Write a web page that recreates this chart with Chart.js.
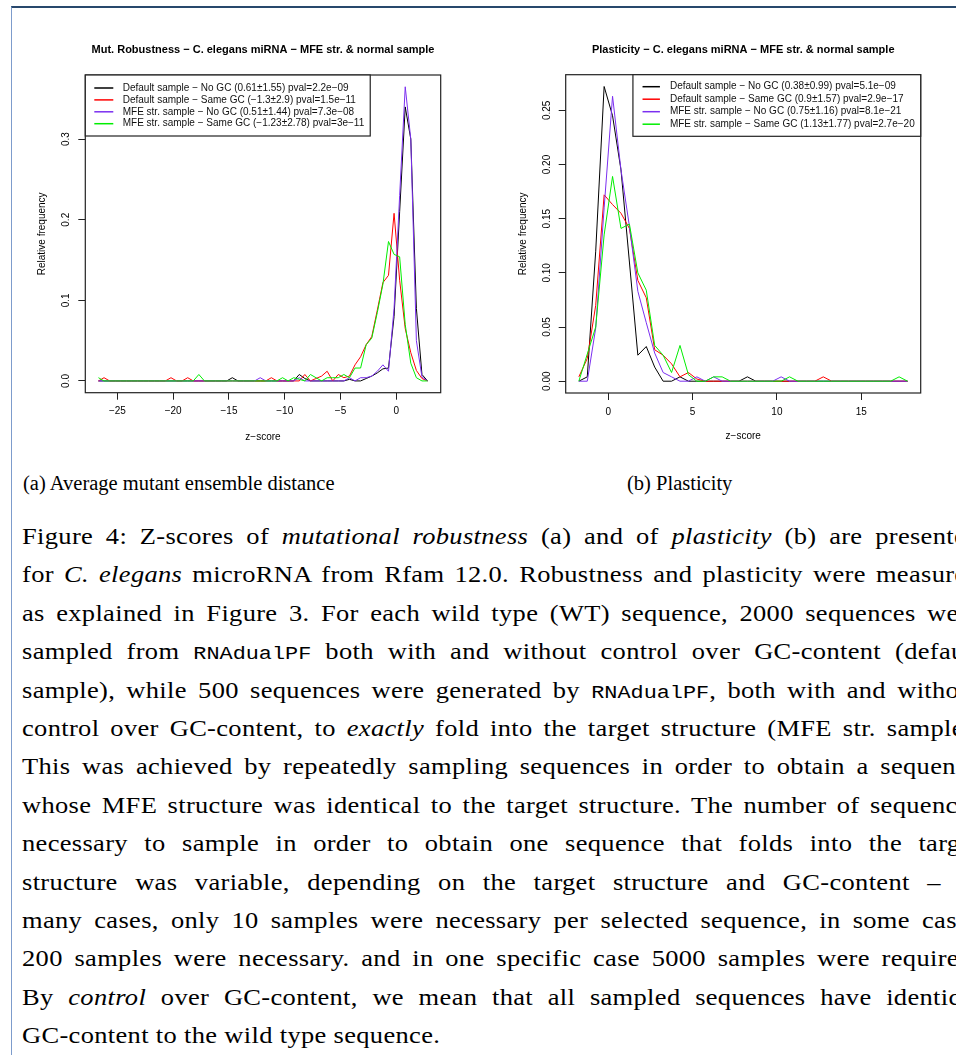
<!DOCTYPE html>
<html>
<head>
<meta charset="utf-8">
<title>Figure 4 - z-scores</title>
<script src="https://cdn.jsdelivr.net/npm/chart.js@4.4.1/dist/chart.umd.min.js"></script>
<style>
    html, body { margin: 0; padding: 0; width: 956px; height: 1055px; overflow: hidden; background: #fff; }
    #frame { position: absolute; left: 11px; top: 6px; width: 980px; height: 1080px;
             border-top: 2px solid #28486c; border-left: 1px solid #7d9ccc; }
    #chartA { position: absolute; left: 0; top: 0; }
    #chartB { position: absolute; left: 478px; top: 0; }
    .sub { position: absolute; top: 468px; font-family: 'Liberation Serif', serif; font-size: 20.5px;
           line-height: 30px; white-space: nowrap; }
    #caption { position: absolute; left: 22px; top: 518px; font-family: 'Liberation Serif', serif;
               font-size: 23px; letter-spacing: 0.3px; color: #000;
               transform: scaleX(1.15); transform-origin: 0 0; }
    #caption .ln { height: 38.4px; line-height: 38.4px; white-space: nowrap; }
    #caption code { font-family: 'Liberation Mono', monospace; font-size: 19px; letter-spacing: 0; }
</style>
</head>
<body>
<div id="frame"></div>
<canvas id="chartA" width="478" height="460"></canvas>
<canvas id="chartB" width="478" height="460"></canvas>

<div class="sub" style="left:23px">(a) Average mutant ensemble distance</div>
<div class="sub" style="left:627px">(b) Plasticity</div>

<div id="caption">
    <div class="ln"><span>Figure 4: Z-scores of <i>mutational robustness</i> (a) and of <i>plasticity</i> (b) are presented</span></div>
    <div class="ln"><span>for <i>C. elegans</i> microRNA from Rfam 12.0. Robustness and plasticity were measured</span></div>
    <div class="ln"><span>as explained in Figure 3. For each wild type (WT) sequence, 2000 sequences were</span></div>
    <div class="ln"><span>sampled from <code>RNAdualPF</code> both with and without control over GC-content (default</span></div>
    <div class="ln"><span>sample), while 500 sequences were generated by <code>RNAdualPF</code>, both with and without</span></div>
    <div class="ln"><span>control over GC-content, to <i>exactly</i> fold into the target structure (MFE str. sample).</span></div>
    <div class="ln"><span>This was achieved by repeatedly sampling sequences in order to obtain a sequence</span></div>
    <div class="ln"><span>whose MFE structure was identical to the target structure. The number of sequences</span></div>
    <div class="ln"><span>necessary to sample in order to obtain one sequence that folds into the target</span></div>
    <div class="ln"><span>structure was variable, depending on the target structure and GC-content &ndash; in</span></div>
    <div class="ln"><span>many cases, only 10 samples were necessary per selected sequence, in some cases</span></div>
    <div class="ln"><span>200 samples were necessary. and in one specific case 5000 samples were required.</span></div>
    <div class="ln"><span>By <i>control</i> over GC-content, we mean that all sampled sequences have identical</span></div>
    <div class="ln last"><span>GC-content to the wild type sequence.</span></div>
</div>

<script>
// z-score bins (a): mutational robustness
const mutZ = [
    -26.7, -26.2, -25.7, -25.2, -24.7, -24.2, -23.7, -23.2, -22.7, -22.2,
    -21.7, -21.2, -20.7, -20.2, -19.7, -19.2, -18.7, -18.2, -17.7, -17.2,
    -16.7, -16.2, -15.7, -15.2, -14.7, -14.2, -13.7, -13.2, -12.7, -12.2,
    -11.7, -11.2, -10.7, -10.2, -9.7, -9.2, -8.7, -8.2, -7.7, -7.2,
    -6.7, -6.2, -5.7, -5.2, -4.7, -4.2, -3.7, -3.2, -2.7, -2.2,
    -1.7, -1.2, -0.7, -0.2, 0.3, 0.8, 1.3, 1.8, 2.3, 2.8
];
const mutDefaultNoGC = [
    0, 0, 0, 0, 0, 0, 0, 0, 0, 0,
    0, 0, 0, 0, 0, 0, 0, 0, 0, 0,
    0, 0, 0, 0, 0.004, 0, 0, 0, 0, 0,
    0, 0, 0, 0, 0, 0, 0.008, 0.003, 0, 0,
    0, 0, 0, 0, 0, 0.002, 0, 0, 0.003, 0.006,
    0.010, 0.015, 0.016, 0.080, 0.210, 0.340, 0.300, 0.090, 0.008, 0
];
const mutDefaultSameGC = [
    0, 0.004, 0, 0, 0, 0, 0, 0, 0, 0,
    0, 0, 0, 0.004, 0, 0, 0.004, 0, 0, 0,
    0, 0, 0, 0, 0, 0, 0, 0, 0, 0,
    0, 0.004, 0, 0, 0, 0, 0, 0.008, 0, 0.003,
    0.006, 0.012, 0, 0.008, 0.004, 0.006, 0.020, 0.030, 0.045, 0.055,
    0.088, 0.122, 0.131, 0.208, 0.125, 0.065, 0.035, 0.013, 0.003, 0
];
const mutMfeNoGC = [
    0, 0, 0, 0, 0, 0, 0, 0, 0, 0,
    0, 0, 0, 0, 0, 0, 0, 0, 0, 0,
    0, 0, 0, 0, 0, 0, 0, 0, 0, 0.004,
    0, 0, 0, 0, 0, 0, 0.004, 0, 0, 0,
    0, 0, 0, 0, 0, 0.004, 0, 0.004, 0.004, 0.006,
    0.012, 0.020, 0.012, 0.090, 0.230, 0.365, 0.300, 0.050, 0.005, 0
];
const mutMfeSameGC = [
    0.004, 0, 0, 0, 0, 0, 0, 0, 0, 0,
    0, 0, 0, 0, 0, 0, 0, 0, 0.008, 0,
    0, 0, 0, 0, 0, 0, 0, 0, 0, 0,
    0, 0, 0, 0.004, 0, 0.004, 0.002, 0, 0.008, 0.004,
    0, 0.004, 0.004, 0.004, 0.008, 0.004, 0.016, 0.016, 0.045, 0.053,
    0.085, 0.120, 0.173, 0.157, 0.154, 0.070, 0.022, 0.004, 0, 0
];
const mutLabels = [
    'Default sample \u2212 No GC (0.61\u00b11.55) pval=2.2e\u221209',
    'Default sample \u2212 Same GC (\u22121.3\u00b12.9) pval=1.5e\u221211',
    'MFE str. sample \u2212 No GC (0.51\u00b11.44) pval=7.3e\u221208',
    'MFE str. sample \u2212 Same GC (\u22121.23\u00b12.78) pval=3e\u221211'
];
const mutTicksX = [-25, -20, -15, -10, -5, 0];
const mutTicksY = [0, 0.1, 0.2, 0.3];

// z-score bins (b): plasticity
const plaZ = [
    -1.75, -1.25, -0.75, -0.25, 0.25, 0.75, 1.25, 1.75, 2.25, 2.75,
    3.25, 3.75, 4.25, 4.75, 5.25, 5.75, 6.25, 6.75, 7.25, 7.75,
    8.25, 8.75, 9.25, 9.75, 10.25, 10.75, 11.25, 11.75, 12.25, 12.75,
    13.25, 13.75, 14.25, 14.75, 15.25, 15.75, 16.25, 16.75, 17.25, 17.75
];
const plaDefaultNoGC = [
    0, 0.004, 0.120, 0.272, 0.245, 0.195, 0.110, 0.024, 0.032, 0.013,
    0, 0, 0.004, 0, 0, 0, 0, 0, 0, 0,
    0.004, 0, 0, 0, 0, 0, 0, 0, 0, 0,
    0, 0, 0, 0, 0, 0, 0, 0, 0, 0
];
const plaDefaultSameGC = [
    0.004, 0.021, 0.070, 0.172, 0.163, 0.155, 0.141, 0.093, 0.077, 0.029,
    0.024, 0.016, 0.004, 0.008, 0.002, 0, 0, 0, 0, 0,
    0, 0, 0, 0, 0, 0, 0, 0, 0, 0.004,
    0, 0, 0, 0, 0, 0, 0, 0, 0, 0
];
const plaMfeNoGC = [
    0, 0, 0.049, 0.160, 0.263, 0.195, 0.143, 0.083, 0.054, 0.026,
    0.008, 0.004, 0, 0, 0.004, 0, 0.004, 0, 0, 0,
    0, 0, 0, 0, 0.004, 0, 0, 0, 0, 0,
    0, 0, 0, 0, 0, 0, 0, 0, 0, 0
];
const plaMfeSameGC = [
    0, 0.025, 0.050, 0.135, 0.189, 0.141, 0.145, 0.100, 0.084, 0.033,
    0.024, 0.008, 0.033, 0.006, 0, 0, 0.004, 0.004, 0, 0,
    0, 0, 0, 0, 0, 0.004, 0, 0, 0, 0,
    0, 0, 0, 0, 0, 0, 0, 0, 0.004, 0
];
const plaLabels = [
    'Default sample \u2212 No GC (0.38\u00b10.99) pval=5.1e\u221209',
    'Default sample \u2212 Same GC (0.9\u00b11.57) pval=2.9e\u221217',
    'MFE str. sample \u2212 No GC (0.75\u00b11.16) pval=8.1e\u221221',
    'MFE str. sample \u2212 Same GC (1.13\u00b11.77) pval=2.7e\u221220'
];
const plaTicksX = [0, 5, 10, 15];
const plaTicksY = [0, 0.05, 0.10, 0.15, 0.20, 0.25];

const seriesColors = ['#000000', '#ff0000', '#7b2ff0', '#00ee00'];
const FONT = "'Liberation Sans', Arial, sans-serif";

// R-like frame around the plot region
const boxPlugin = {
    id: 'rbox',
    afterDatasetsDraw(chart) {
        const { ctx, chartArea: a } = chart;
        ctx.save();
        ctx.strokeStyle = '#222';
        ctx.lineWidth = 1.2;
        ctx.strokeRect(a.left, a.top, a.right - a.left, a.bottom - a.top);
        ctx.restore();
    }
};

// R-like legend box drawn inside the plot region
const legendPlugin = {
    id: 'rlegend',
    afterDraw(chart, args, opts) {
        const { ctx, chartArea: a } = chart;
        ctx.save();
        ctx.font = '10px ' + FONT;
        const sets = chart.data.datasets;
        const textW = Math.max(...sets.map(d => ctx.measureText(d.label).width));
        const w = opts.textOffset + textW + 6;
        const x0 = opts.side === 'left' ? a.left : a.right - w;
        const y0 = a.top;
        ctx.fillStyle = '#fff';
        ctx.fillRect(x0, y0, w, opts.height);
        ctx.strokeStyle = '#222';
        ctx.lineWidth = 1.2;
        ctx.strokeRect(x0, y0, w, opts.height);
        sets.forEach((d, i) => {
            const y = y0 + opts.firstRow + i * opts.rowStep;
            ctx.strokeStyle = d.borderColor;
            ctx.lineWidth = 1.5;
            ctx.beginPath();
            ctx.moveTo(x0 + opts.lineStart, y);
            ctx.lineTo(x0 + opts.lineEnd, y);
            ctx.stroke();
            ctx.fillStyle = '#111';
            ctx.textBaseline = 'middle';
            ctx.fillText(d.label, x0 + opts.textOffset, y);
        });
        ctx.restore();
    }
};

const fmtX = v => String(v).replace('-', '\u2212');

const makeChart = (canvasId, p) => {
    const datasets = p.series.map((vals, i) => ({
        label: p.labels[i],
        data: p.z.map((z, j) => ({ x: z, y: vals[j] })),
        borderColor: seriesColors[i],
        borderWidth: 1,
        pointRadius: 0,
        tension: 0,
        fill: false,
        order: 3 - i
    }));

    return new Chart(document.getElementById(canvasId).getContext('2d'), {
        type: 'line',
        data: { datasets },
        options: {
            responsive: false,
            animation: false,
            events: [],
            layout: { padding: { left: 0, right: p.padRight, top: 0, bottom: 0 } },
            scales: {
                x: {
                    type: 'linear',
                    min: p.xMin,
                    max: p.xMax,
                    afterBuildTicks: s => { s.ticks = p.ticksX.map(v => ({ value: v })); },
                    afterFit: s => { s.height = p.xAxisHeight; },
                    ticks: { color: '#000', font: { family: FONT, size: 10 }, padding: 6,
                             autoSkip: false, maxRotation: 0, callback: v => fmtX(v) },
                    grid: { display: true, drawOnChartArea: false, drawTicks: true, tickLength: 7,
                            color: '#222', lineWidth: 1 },
                    border: { display: false },
                    title: { display: true, text: 'z\u2212score', color: '#000',
                             font: { family: FONT, size: 10 }, padding: { top: 0, bottom: p.xTitlePad } }
                },
                y: {
                    type: 'linear',
                    min: p.yMin,
                    max: p.yMax,
                    afterBuildTicks: s => { s.ticks = p.ticksY.map(v => ({ value: v })); },
                    afterFit: s => { s.width = p.yAxisWidth; },
                    ticks: { color: '#000', font: { family: FONT, size: 10 }, padding: p.yTickPad,
                             autoSkip: false, minRotation: 90, maxRotation: 90, crossAlign: 'center',
                             callback: v => v.toFixed(p.yDigits) },
                    grid: { display: true, drawOnChartArea: false, drawTicks: true, tickLength: 7,
                            color: '#222', lineWidth: 1 },
                    border: { display: false },
                    title: { display: true, text: 'Relative frequency', color: '#000',
                             font: { family: FONT, size: 10 }, padding: { top: p.yTitlePad, bottom: 0 } }
                }
            },
            plugins: {
                legend: { display: false },
                tooltip: { enabled: false },
                title: {
                    display: true,
                    text: p.title,
                    color: '#000',
                    fullSize: false,
                    font: { family: FONT, size: 11, weight: 'bold' },
                    padding: { top: 43.4, bottom: p.titlePadBottom }
                },
                rlegend: p.legend
            }
        },
        plugins: [boxPlugin, legendPlugin]
    });
};

makeChart('chartA', {
    z: mutZ,
    series: [mutDefaultNoGC, mutDefaultSameGC, mutMfeNoGC, mutMfeSameGC],
    labels: mutLabels,
    title: 'Mut. Robustness \u2212 C. elegans miRNA \u2212 MFE str. & normal sample',
    xMin: -27.88, xMax: 3.98, yMin: -0.0146, yMax: 0.3796,
    ticksX: mutTicksX, ticksY: mutTicksY, yDigits: 1,
    padRight: 37.3, xAxisHeight: 67.3, yAxisWidth: 85.3,
    xTitlePad: 17, yTitlePad: 36.7, yTickPad: 4.6, titlePadBottom: 18.4,
    legend: { side: 'left', height: 61, firstRow: 13, rowStep: 11.9,
              lineStart: 9, lineEnd: 28, textOffset: 37.4 }
});

makeChart('chartB', {
    z: plaZ,
    series: [plaDefaultNoGC, plaDefaultSameGC, plaMfeNoGC, plaMfeSameGC],
    labels: plaLabels,
    title: 'Plasticity \u2212 C. elegans miRNA \u2212 MFE str. & normal sample',
    xMin: -2.53, xMax: 18.53, yMin: -0.0109, yMax: 0.2829,
    ticksX: plaTicksX, ticksY: plaTicksY, yDigits: 2,
    padRight: 35.3, xAxisHeight: 67, yAxisWidth: 87.7,
    xTitlePad: 18, yTitlePad: 39.7, yTickPad: 1.5, titlePadBottom: 18.1,
    legend: { side: 'right', height: 61.6, firstRow: 12, rowStep: 12.5,
              lineStart: 9.6, lineEnd: 27, textOffset: 37 }
});

// justify caption lines to the text block width (block runs past the right edge);
// widths are in the caption's own (unscaled) pixels
const captionScale = 1.15;
const captionWidth = 958 / captionScale;
document.querySelectorAll('#caption .ln').forEach(line => {
    if (line.classList.contains('last')) return;
    const span = line.querySelector('span');
    const natural = span.offsetWidth;
    const gaps = (span.textContent.match(/ /g) || []).length;
    if (gaps) line.style.wordSpacing = ((captionWidth - natural) / gaps) + 'px';
});
</script>
</body>
</html>
